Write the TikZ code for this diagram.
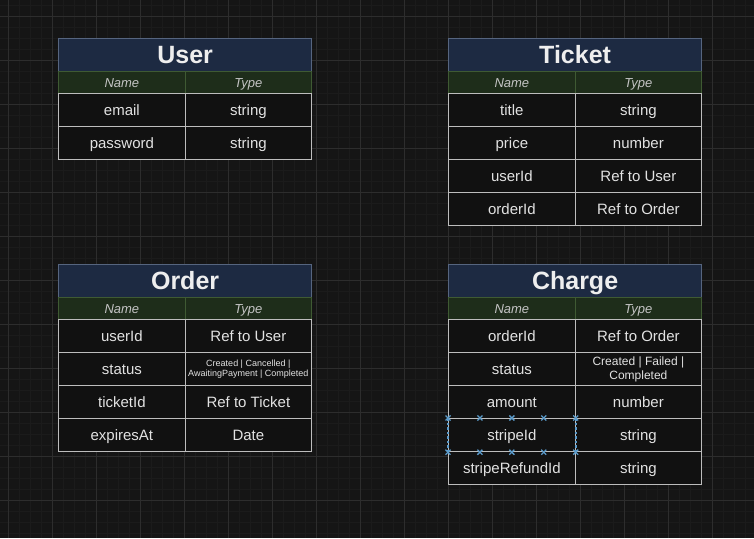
\documentclass[tikz,border=0pt]{standalone}
\usepackage{fontspec}
\setmainfont{Liberation Sans}
\usetikzlibrary{calc}
\definecolor{bgc}{HTML}{151515}
\definecolor{minorc}{HTML}{1B1B1B}
\definecolor{majorc}{HTML}{2D2D2D}
\definecolor{hdrblue}{HTML}{1D2A42}
\definecolor{hdrborder}{HTML}{56657F}
\definecolor{subgreen}{HTML}{1E2D1A}
\definecolor{subborder}{HTML}{3F5A33}
\definecolor{cellfill}{HTML}{111111}
\definecolor{cellborder}{HTML}{BDBDBD}
\definecolor{titletext}{HTML}{EEEEEE}
\definecolor{celltext}{HTML}{E2E2E2}
\definecolor{subtext}{HTML}{C4C4C4}
\definecolor{selblue}{HTML}{5B9BCB}
\tikzset{
  tabtitle/.style={fill=hdrblue,draw=hdrborder,line width=1.2pt,anchor=north west,inner sep=0pt,
    minimum width=253pt,minimum height=33pt,text=titletext,font=\fontsize{25}{30}\selectfont\bfseries,
    text height=16.5pt,text depth=0pt},
  subh/.style={fill=subgreen,draw=subborder,line width=1.2pt,anchor=north west,inner sep=0pt,
    minimum width=126.5pt,minimum height=22pt,text=subtext,font=\fontsize{13}{15}\selectfont\itshape,
    text height=9.5pt,text depth=0pt},
  cell/.style={fill=cellfill,draw=cellborder,line width=1.2pt,anchor=north west,inner sep=0pt,
    minimum width=126.5pt,minimum height=33pt,text=celltext,font=\fontsize{15}{18}\selectfont,align=center,
    text height=10pt,text depth=0pt},
  tiny/.style={font=\fontsize{9}{10.7}\selectfont,text height={},text depth={}},
  small/.style={font=\fontsize{12}{13.7}\selectfont,text height={},text depth={}},
  minorl/.style={draw=minorc,line width=0.7pt},
  majorl/.style={draw=majorc,line width=1pt},
  handle/.style={draw=selblue,line width=1.3pt},
}
\begin{document}
\begin{tikzpicture}[x=1pt,y=-1pt]
\useasboundingbox (0,0) rectangle (754,538);
\fill[bgc] (0,0) rectangle (754,538);
% grid
\foreach \x in {8,19,...,754} \draw[minorl] (\x,0) -- (\x,538);
\foreach \y in {5,16,...,538} \draw[minorl] (0,\y) -- (754,\y);
\foreach \x in {8,52,...,754} \draw[majorl] (\x,0) -- (\x,538);
\foreach \y in {16,60,...,538} \draw[majorl] (0,\y) -- (754,\y);

% ---------- User ----------
\node[tabtitle] (userT) at (58,38) {User};
\node[subh] (userN) at (58,71) {Name};
\node[subh] (userY) at (184.5,71) {Type};
\node[cell] (userR1a) at (58,93) {email};
\node[cell] (userR1b) at (184.5,93) {string};
\node[cell] (userR2a) at (58,126) {password};
\node[cell] (userR2b) at (184.5,126) {string};

% ---------- Ticket ----------
\node[tabtitle] (tickT) at (448,38) {Ticket};
\node[subh] (tickN) at (448,71) {Name};
\node[subh] (tickY) at (574.5,71) {Type};
\node[cell] (tickR1a) at (448,93) {title};
\node[cell] (tickR1b) at (574.5,93) {string};
\node[cell] (tickR2a) at (448,126) {price};
\node[cell] (tickR2b) at (574.5,126) {number};
\node[cell] (tickR3a) at (448,159) {userId};
\node[cell] (tickR3b) at (574.5,159) {Ref to User};
\node[cell] (tickR4a) at (448,192) {orderId};
\node[cell] (tickR4b) at (574.5,192) {Ref to Order};

% ---------- Order ----------
\node[tabtitle] (ordT) at (58,264) {Order};
\node[subh] (ordN) at (58,297) {Name};
\node[subh] (ordY) at (184.5,297) {Type};
\node[cell] (ordR1a) at (58,319) {userId};
\node[cell] (ordR1b) at (184.5,319) {Ref to User};
\node[cell] (ordR2a) at (58,352) {status};
\node[cell,tiny] (ordR2b) at (184.5,352) {Created | Cancelled |\\AwaitingPayment | Completed};
\node[cell] (ordR3a) at (58,385) {ticketId};
\node[cell] (ordR3b) at (184.5,385) {Ref to Ticket};
\node[cell] (ordR4a) at (58,418) {expiresAt};
\node[cell] (ordR4b) at (184.5,418) {Date};

% ---------- Charge ----------
\node[tabtitle] (chgT) at (448,264) {Charge};
\node[subh] (chgN) at (448,297) {Name};
\node[subh] (chgY) at (574.5,297) {Type};
\node[cell] (chgR1a) at (448,319) {orderId};
\node[cell] (chgR1b) at (574.5,319) {Ref to Order};
\node[cell] (chgR2a) at (448,352) {status};
\node[cell,small] (chgR2b) at (574.5,352) {Created | Failed |\\Completed};
\node[cell] (chgR3a) at (448,385) {amount};
\node[cell] (chgR3b) at (574.5,385) {number};
\node[cell] (chgR4a) at (448,418) {stripeId};
\node[cell] (chgR4b) at (574.5,418) {string};
\node[cell] (chgR5a) at (448,451) {stripeRefundId};
\node[cell] (chgR5b) at (574.5,451) {string};

% selection handles on stripeId
\draw[handle,dash pattern=on 2.5pt off 2pt,line width=2.2pt] (chgR4a.north west) -- (chgR4a.south west);
\draw[handle,dash pattern=on 2.5pt off 2pt,line width=2.2pt] (chgR4a.north east) -- (chgR4a.south east);
\foreach \f in {0,0.25,0.5,0.75,1} {
  \foreach \a/\b in {north west/north east,south west/south east} {
    \coordinate (h) at ($(chgR4a.\a)!\f!(chgR4a.\b)$);
    \draw[handle] ([shift={(-2.5,-2.5)}]h) -- ([shift={(2.5,2.5)}]h);
    \draw[handle] ([shift={(-2.5,2.5)}]h) -- ([shift={(2.5,-2.5)}]h);
  }
}
\end{tikzpicture}
\end{document}
